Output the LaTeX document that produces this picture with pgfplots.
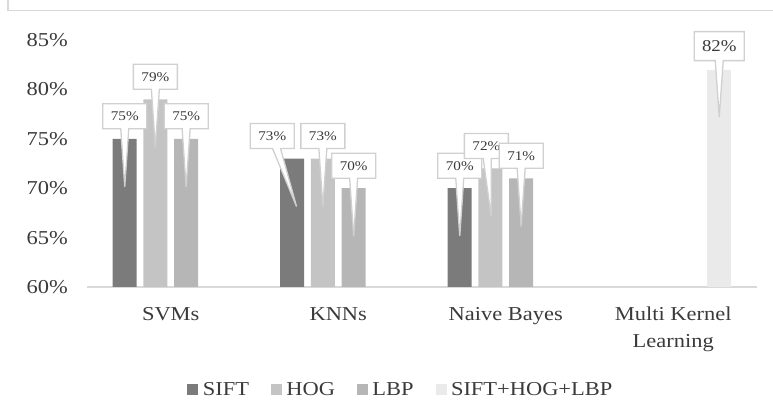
\documentclass[border=0pt]{standalone}
\usepackage{fontspec}
\setmainfont{Liberation Serif}[FakeStretch=1.14]
\usepackage{pgfplots}
\usepackage{pgfplotstable}
\pgfplotsset{compat=1.18}
\usetikzlibrary{shapes.callouts}
\definecolor{csift}{HTML}{7B7B7B}
\definecolor{chog}{HTML}{C4C4C4}
\definecolor{clbp}{HTML}{B6B6B6}
\definecolor{call}{HTML}{EAEAEA}
\definecolor{axgray}{HTML}{D9D9D9}
\definecolor{cogray}{HTML}{D0D0D0}
\definecolor{txt}{HTML}{3A3A3A}
% dx: horizontal offset of the callout box from the category centre (bp), px: pointer x relative to box
\pgfplotstableread{
x y dx px
0 75 -46 0
1 73 -66 20
2 70 -46 0
}\tsift
\pgfplotstableread{
x y dx px
0 79 -15.4 0
1 73 -15.4 0
2 72 -19.4 4
}\thog
\pgfplotstableread{
x y dx px
0 75 15.4 0
1 70 15.4 0
2 71 15.4 0
}\tlbp
\pgfplotstableread{
x y dx px
3 82 46 0
}\tall
\begin{document}
\begin{tikzpicture}
\useasboundingbox (0bp,0bp) rectangle (773bp,418bp);
\draw[axgray, line width=1.3bp] (8bp,420bp) -- (8bp,407.3bp) -- (775bp,407.3bp);
\begin{axis}[
  at={(87bp,131bp)}, anchor=south west,
  scale only axis, width=670bp, height=247bp,
  xmin=-0.5, xmax=3.5, ymin=60, ymax=85,
  clip=false,
  axis lines*=left,
  x axis line style={draw=axgray, line width=1.5bp},
  y axis line style={draw=none},
  tick style={draw=none}, major tick length=0pt,
  ytick={60,65,70,75,80,85},
  yticklabel={\pgfmathprintnumber{\tick}\%},
  /pgf/number format/assume math mode=true,
  yticklabel style={inner sep=0pt, anchor=east, xshift=-19bp, text=txt, font=\fontsize{19.7bp}{24bp}\selectfont},
  xtick={0,1,2,3},
  xticklabels={SVMs, KNNs, Naive Bayes, {Multi Kernel\\Learning}},
  xticklabel style={inner sep=0pt, anchor=north, yshift=-20bp, align=center, text=txt, font=\fontsize{19.7bp}{27bp}\selectfont},
  ybar, bar width=0.1433,
  legend columns=4,
  legend style={at={(0.467,-0.415)}, anchor=center, draw=none, fill=none, inner sep=0pt,
     nodes={inner sep=0pt, text=txt}, font=\fontsize{19.7bp}{24bp}\selectfont,
     /tikz/every odd column/.append style={column sep=5bp},
     /tikz/every even column/.append style={column sep=22bp}},
  callbox/.style={
     draw=none, fill=none, forget plot,
     point meta=explicit symbolic,
     nodes near coords={\pgfplotspointmeta\%},
     visualization depends on={\thisrow{dx} \as \dx},
     visualization depends on={\thisrow{px} \as \px},
     every node near coord/.style={rectangle callout, anchor=center, draw=cogray, line width=1.3bp, fill=white, text=txt,
       minimum width=44bp, minimum height=25bp, inner sep=0pt, callout pointer width=8bp,
       font=\fontsize{13.3bp}{15bp}\selectfont,
       xshift=\dx bp, yshift=22.5bp,
       callout relative pointer={(\px bp,-58bp)}}},
]
\addlegendimage{legend image code/.code={\fill[csift] (0bp,-5bp) rectangle (10bp,5bp);}}
\addlegendimage{legend image code/.code={\fill[chog] (0bp,-5bp) rectangle (10bp,5bp);}}
\addlegendimage{legend image code/.code={\fill[clbp] (0bp,-5bp) rectangle (10bp,5bp);}}
\addlegendimage{legend image code/.code={\fill[call] (0bp,-5bp) rectangle (10bp,5bp);}}
% bars
\addplot[fill=csift, draw=none, bar shift=-0.275, forget plot] table[x=x, y=y] {\tsift};
\addplot[fill=chog, draw=none, bar shift=-0.092, forget plot] table[x=x, y=y] {\thog};
\addplot[fill=clbp, draw=none, bar shift=0.092, forget plot] table[x=x, y=y] {\tlbp};
\addplot[fill=call, draw=none, bar shift=0.275, forget plot] table[x=x, y=y] {\tall};
% data-label callouts
\addplot[bar shift=-0.275, callbox] table[x=x, y=y, meta=y] {\tsift};
\addplot[bar shift=-0.092, callbox] table[x=x, y=y, meta=y] {\thog};
\addplot[bar shift=0.092, callbox] table[x=x, y=y, meta=y] {\tlbp};
\addplot[bar shift=0.275, callbox,
  every node near coord/.append style={minimum width=50bp, minimum height=29bp, yshift=1bp,
     font=\fontsize{16.5bp}{19bp}\selectfont, callout relative pointer={(0bp,-56.5bp)}}] table[x=x, y=y, meta=y] {\tall};
\legend{SIFT, HOG, LBP, SIFT+HOG+LBP}
\end{axis}
\end{tikzpicture}
\end{document}
